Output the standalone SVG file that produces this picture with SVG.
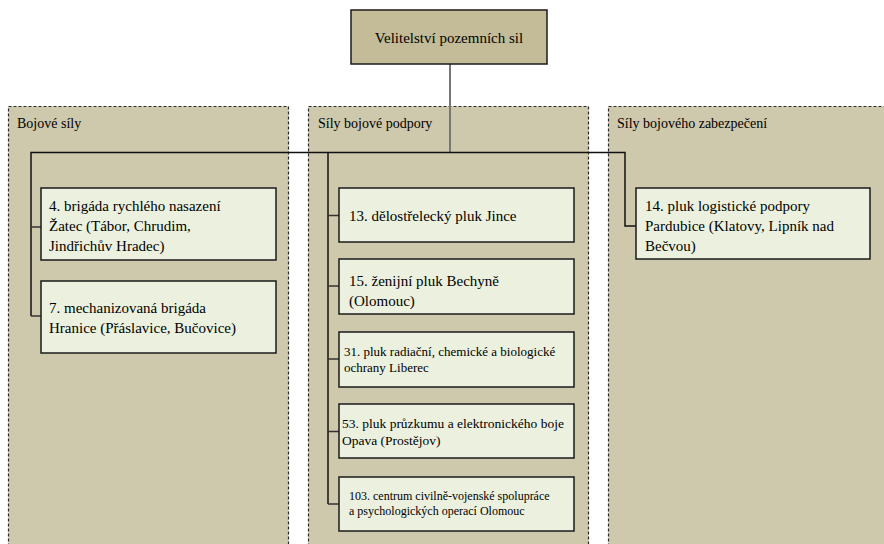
<svg xmlns="http://www.w3.org/2000/svg" width="884" height="544" viewBox="0 0 884 544">
<style>
text{fill:#000}
.panel{fill:#CEC8AC;stroke:#2a2a2a;stroke-width:1.2;stroke-dasharray:3 2}
.box{fill:#EBF1DE;stroke:#1a1a1a;stroke-width:1.5}
.top{fill:#C4BC98;stroke:#1a1a1a;stroke-width:1.5}
.con{fill:none;stroke:#111;stroke-width:1.5}
.stub{fill:none;stroke:#333;stroke-width:1.5}
</style>
<rect width="884" height="544" fill="#fff"/>
<g font-family="Times New Roman, Liberation Serif, Tinos, serif">
<g id="panel-bojove">
<rect class="panel" x="8.5" y="106.5" width="280" height="450"/>
<text font-size="14" x="17" y="128">Bojové síly</text>
</g>
<g id="panel-podpora">
<rect class="panel" x="308.5" y="106.5" width="280" height="450"/>
<text font-size="14" x="318" y="128">Síly bojové podpory</text>
</g>
<g id="panel-zabezpeceni">
<rect class="panel" x="608.5" y="106.5" width="290" height="450"/>
<text font-size="14" x="617" y="128">Síly bojového zabezpečení</text>
</g>
<g id="connectors">
<line x1="450" y1="64" x2="450" y2="153" stroke="#777" stroke-width="2"/>
<polyline class="con" points="31,316 31,152.5 625,152.5 625,226 636,226"/>
<line class="stub" x1="31" y1="227" x2="41" y2="227"/>
<line class="stub" x1="31" y1="316" x2="41" y2="316"/>
<line class="con" x1="328" y1="152.5" x2="328" y2="504"/>
<line class="stub" x1="328" y1="215.5" x2="339" y2="215.5"/>
<line class="stub" x1="328" y1="286" x2="339" y2="286"/>
<line class="stub" x1="328" y1="359" x2="339" y2="359"/>
<line class="stub" x1="328" y1="431.5" x2="339" y2="431.5"/>
<line class="stub" x1="328" y1="504" x2="339" y2="504"/>
</g>
<g id="velitelstvi">
<rect class="top" x="351" y="10" width="196" height="54"/>
<text font-size="15" x="449" y="43" text-anchor="middle">Velitelství pozemních sil</text>
</g>
<g id="brigada4" font-size="15">
<rect class="box" x="41" y="188" width="235" height="72"/>
<text x="49" y="211">4. brigáda rychlého nasazení</text>
<text x="49" y="231">Žatec (Tábor, Chrudim,</text>
<text x="49" y="251">Jindřichův Hradec)</text>
</g>
<g id="brigada7" font-size="15">
<rect class="box" x="41" y="281" width="235" height="72"/>
<text x="49" y="313">7. mechanizovaná brigáda</text>
<text x="49" y="333">Hranice (Přáslavice, Bučovice)</text>
</g>
<g id="pluk13" font-size="15">
<rect class="box" x="339" y="188" width="235" height="54"/>
<text x="349" y="221">13. dělostřelecký pluk Jince</text>
</g>
<g id="pluk15" font-size="15">
<rect class="box" x="339" y="259" width="235" height="55"/>
<text x="349" y="286">15. ženijní pluk Bechyně</text>
<text x="349" y="306">(Olomouc)</text>
</g>
<g id="pluk31" font-size="13">
<rect class="box" x="339" y="332" width="235" height="55"/>
<text x="344" y="356">31. pluk radiační, chemické a biologické</text>
<text x="344" y="372">ochrany Liberec</text>
</g>
<g id="pluk53" font-size="13.5">
<rect class="box" x="339" y="404" width="235" height="54"/>
<text x="342" y="428">53. pluk průzkumu a elektronického boje</text>
<text x="342" y="445">Opava (Prostějov)</text>
</g>
<g id="centrum103" font-size="12">
<rect class="box" x="339" y="477" width="235" height="54"/>
<text x="349" y="500">103. centrum civilně-vojenské spolupráce</text>
<text x="349" y="515">a psychologických operací Olomouc</text>
</g>
<g id="pluk14" font-size="15">
<rect class="box" x="636" y="188" width="234" height="71"/>
<text x="645" y="211">14. pluk logistické podpory</text>
<text x="645" y="231">Pardubice (Klatovy, Lipník nad</text>
<text x="645" y="251">Bečvou)</text>
</g>
</g>
</svg>
